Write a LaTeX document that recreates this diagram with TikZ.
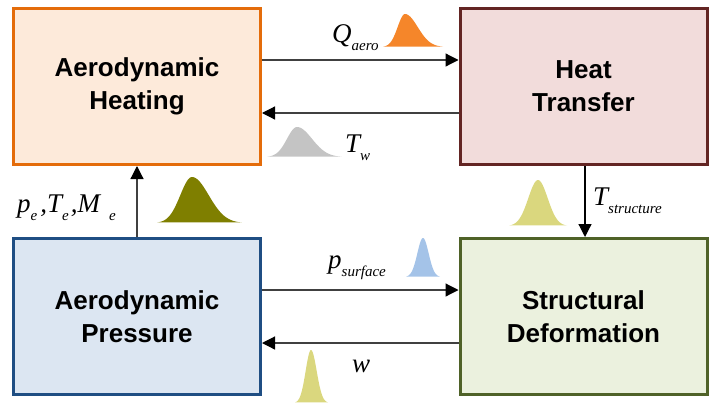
\documentclass[tikz,border=0pt]{standalone}
\usepackage{fontspec}
\setmainfont{Liberation Sans}
\newfontfamily\eqfont{Liberation Serif}
\usepackage{tikz}
\usetikzlibrary{positioning, arrows.meta, calc}
\definecolor{heatEdge}{HTML}{E46C0A}
\definecolor{heatFill}{HTML}{FDEADA}
\definecolor{transEdge}{HTML}{632523}
\definecolor{transFill}{HTML}{F2DCDB}
\definecolor{pressEdge}{HTML}{1F4E83}
\definecolor{pressFill}{HTML}{DCE6F2}
\definecolor{deformEdge}{HTML}{4F6228}
\definecolor{deformFill}{HTML}{EBF1DE}
\definecolor{bumpOrange}{HTML}{F5862A}
\definecolor{bumpGray}{HTML}{C4C4C4}
\definecolor{bumpOlive}{HTML}{7F7F00}
\definecolor{bumpYellow}{HTML}{DAD77E}
\definecolor{bumpBlue}{HTML}{A4C3E8}
\definecolor{wireGray}{HTML}{404040}
\newcommand{\varsub}[2]{#1\raisebox{-8pt}{\fontsize{15}{15}\selectfont #2}}
\tikzset{
  physbox/.style={rectangle, line width=3pt, align=center,
    minimum width=247pt, minimum height=156pt, inner sep=2pt,
    font=\fontsize{26}{33}\selectfont\bfseries},
  arrowline/.style={-{Triangle[length=13pt, width=13pt, black]},
    line width=1.2pt, wireGray},
  varlabel/.style={anchor=base west, inner sep=0pt,
    font=\eqfont\itshape\fontsize{27}{27}\selectfont},
}
\begin{document}
\begin{tikzpicture}[x=1pt, y=-1pt]
  \useasboundingbox (0,0) rectangle (711,407);
  % ---------------- the four physics blocks ----------------
  \node[physbox, draw=heatEdge, fill=heatFill] (heating) at (137,86.5)
    {Aerodynamic\\Heating};
  \node[physbox, draw=transEdge, fill=transFill] (transfer) at (583.5,86.5)
    {Heat\\Transfer};
  \node[physbox, draw=pressEdge, fill=pressFill] (pressure) at (137,316.5)
    {Aerodynamic\\Pressure};
  \node[physbox, draw=deformEdge, fill=deformFill] (deform) at (583.5,316.5)
    {Structural\\Deformation};
  % ---------------- couplings ----------------
  \draw[arrowline] ([yshift=26.5pt]heating.east) -- ([yshift=26.5pt]transfer.west);
  \draw[arrowline] ([yshift=-26.5pt]transfer.west) -- ([yshift=-26.5pt]heating.east);
  \draw[arrowline] ([yshift=26.5pt]pressure.east) -- ([yshift=26.5pt]deform.west);
  \draw[arrowline] ([yshift=-26.5pt]deform.west) -- ([yshift=-26.5pt]pressure.east);
  \draw[arrowline] (pressure.north) -- (heating.south);
  \draw[arrowline, black] ([xshift=1.5pt]transfer.south) -- ([xshift=1.5pt]deform.north);
  % ---------------- exchanged quantities ----------------
  \node[varlabel] (qaero) at (332,42) {\varsub{Q}{aero}};
  \node[varlabel] (tw) at (345,152) {\varsub{T}{w}};
  \node[varlabel] (pte) at (17,212)
    {\varsub{p}{e}\kern3pt,\varsub{T}{e}\kern2pt,\varsub{M}{\kern9pt e}};
  \node[varlabel] (tstruct) at (593,205) {\varsub{T}{structure}};
  \node[varlabel] (psurf) at (328,268) {\varsub{p}{surface}};
  \node[varlabel] (wdisp) at (352,372) {w};
  % ---------------- distributions ----------------
  \foreach \cx/\hl/\hr/\h/\base/\col in {405/22/38/33/47/bumpOrange,
      297/30/45/30/157/bumpGray, 192/35/50/46/223/bumpOlive,
      538/29/29/46/226/bumpYellow, 423/17/17/39/277/bumpBlue,
      311/16/17/53/403/bumpYellow}
    \fill[\col] plot[domain=-3:3, samples=61]
      ({\cx + \x*(\x<0 ? \hl : \hr)/3}, {\base - \h*exp(-((\x)^2)/2)}) -- cycle;
\end{tikzpicture}
\end{document}
